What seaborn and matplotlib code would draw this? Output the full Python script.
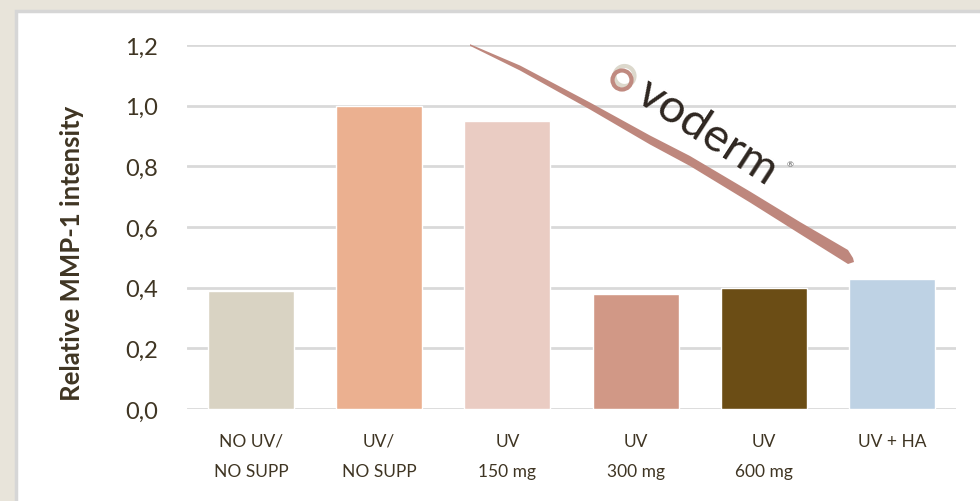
import numpy as np
import pandas as pd
import matplotlib
matplotlib.use("Agg")
import matplotlib.pyplot as plt
from matplotlib.patches import Rectangle, Polygon, Circle
import seaborn as sns

groups = ["NO UV/\nNO SUPP", "UV/\nNO SUPP", "UV\n150 mg", "UV\n300 mg", "UV\n600 mg", "UV + HA"]
mmp1 = [0.39, 1.00, 0.95, 0.38, 0.40, 0.43]
bar_colors = ["#D9D3C3", "#EBB090", "#EACCC3", "#D19886", "#6B4D15", "#BED2E4"]
yticks = [0.0, 0.2, 0.4, 0.6, 0.8, 1.0, 1.2]
ytick_labels = ["0,0", "0,2", "0,4", "0,6", "0,8", "1,0", "1,2"]

sns.set_style("white")
plt.rcParams['font.family'] = ['Lato', 'DejaVu Sans']
text_col = "#3F3523"

df = pd.DataFrame({"group": groups, "value": mmp1})

fig = plt.figure(figsize=(9.8, 5.02), dpi=100)
fig.patch.set_facecolor("#E8E4DA")
# white panel with grey border
panel = Rectangle((16 / 980, -0.1), 1.1, 1 - 12 / 502 + 0.1, transform=fig.transFigure,
                  facecolor="white", edgecolor="#D6D6D6", linewidth=2.5, zorder=-5)
fig.patches.append(panel)

ax = fig.add_axes([187 / 980, 1 - 410 / 502, (956 - 187) / 980, (410 - 46) / 502])
ax.set_zorder(2)
ax.set_facecolor("none")
sns.barplot(data=df, x="group", y="value", hue="group", palette=bar_colors,
            width=0.67, saturation=1, legend=False, ax=ax, zorder=3)
ax.set_xlim(-0.5, 5.5)
ax.set_ylim(0, 1.2)
ax.set_yticks(yticks)
ax.set_yticklabels(ytick_labels, fontsize=17, color=text_col)
ax.tick_params(axis="x", labelsize=12.5, colors=text_col, length=0, pad=17)
ax.tick_params(axis="y", length=0, pad=21)
for lab in ax.get_xticklabels():
    lab.set_linespacing(2.1)
ax.grid(axis="y", color="#D9D9D9", linewidth=2, zorder=0)
for s in ax.spines.values():
    s.set_visible(False)
ax.set_xlabel("")
ax.set_ylabel("Relative MMP-1 intensity", fontsize=18.5, fontweight="bold", color=text_col)
ax.yaxis.set_label_coords(-0.134, 0.431)

# ovoderm logo stroke (pixel coords, y down): centreline and half widths
cx = np.array([470, 520, 590, 650, 690, 750, 800, 848])
cy = np.array([46, 69, 107, 141, 162, 198, 229, 258])
hw = np.array([0.8, 2.5, 3.5, 4.5, 5, 5.5, 6, 7])
top = np.column_stack([cx, cy - hw])
bot = np.column_stack([cx, cy + hw])[::-1]
tip = np.array([[853, 259], [854, 263]])
stroke = np.vstack([top, tip, bot]).astype(float)
fig.patches.append(Polygon(np.column_stack([stroke[:, 0] / 980, 1 - stroke[:, 1] / 502]),
                           closed=True, transform=fig.transFigure, facecolor="#BE877D",
                           edgecolor="none", zorder=5))
fig.patches.append(Circle((6.245, (502 - 77) / 100), 0.10, transform=fig.dpi_scale_trans,
                          facecolor="none", edgecolor="#DCD8CC", linewidth=3, zorder=5))
fig.patches.append(Circle((6.22, (502 - 81) / 100), 0.095, transform=fig.dpi_scale_trans,
                          facecolor="none", edgecolor="#C08A80", linewidth=3, zorder=6))
fig.text(707 / 980, 1 - 132 / 502, "voderm", fontsize=34, color="#2E2620", rotation=-33,
         rotation_mode="anchor", ha="center", va="center", zorder=6)
fig.text(790 / 980, 1 - 165 / 502, "®", fontsize=6, color="#555555", ha="center", va="center")

fig.savefig("out.png", dpi=100, facecolor=fig.get_facecolor())
